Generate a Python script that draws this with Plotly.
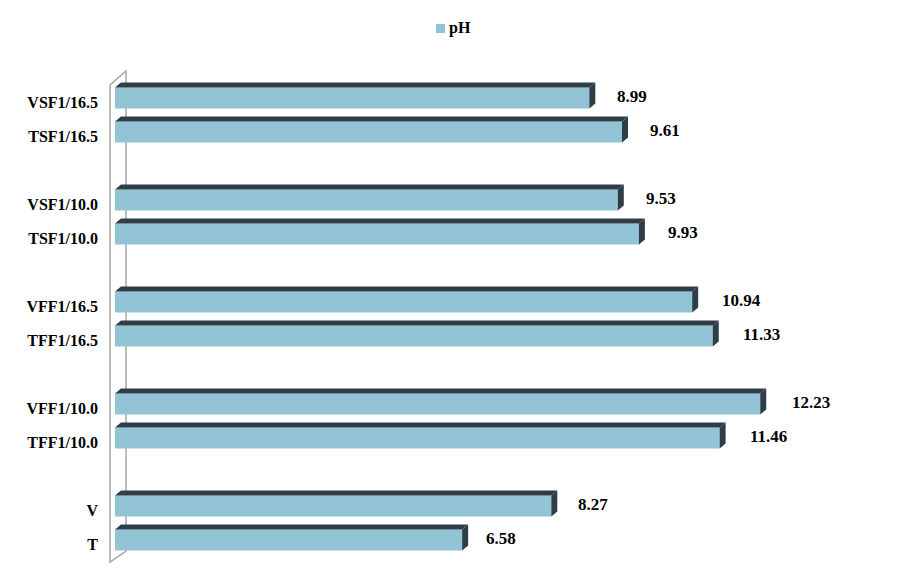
import plotly.graph_objects as go

# ---- data ----
categories = ["VSF1/16.5", "TSF1/16.5", "VSF1/10.0", "TSF1/10.0",
              "VFF1/16.5", "TFF1/16.5", "VFF1/10.0", "TFF1/10.0", "V", "T"]
ph_values = [8.99, 9.61, 9.53, 9.93, 10.94, 11.33, 12.23, 11.46, 8.27, 6.58]
series_name = "pH"

# categories come in pairs, separated by one empty slot
slots = [(i // 2) * 3 + (i % 2) for i in range(len(categories))]

# ---- styling ----
FRONT = "#92C4D6"
DARK = "#2E3D46"
WALL = "#A6A6A6"
FONT = "Times New Roman, Liberation Serif, serif"

W, H = 900, 588
ML, MR, MT, MB = 115, 20, 64, 14
XMAX = 14.5
YTOP, YBOT = -1, 14
PW = W - ML - MR
PH = H - MT - MB
px_per_x = PW / XMAX
px_per_y = PH / (YBOT - YTOP)

bar_h = 21 / px_per_y
dx = 6 / px_per_x
dy = 5 / px_per_y


def xp(px):
    return (px - ML) / PW


def yp(py):
    return (H - MB - py) / PH


fig = go.Figure()
fig.add_trace(go.Bar(
    y=slots, x=ph_values, orientation="h", width=bar_h,
    marker=dict(color=FRONT, line=dict(width=0)),
    name=series_name, hoverinfo="x+text", text=categories, textposition="none",
))

# 3D faces (top and right side)
for s, v in zip(slots, ph_values):
    yt = s - bar_h / 2
    yb = s + bar_h / 2
    fig.add_trace(go.Scatter(
        x=[0, v, v + dx, dx, 0], y=[yt, yt, yt - dy, yt - dy, yt],
        fill="toself", fillcolor=DARK, mode="lines", line=dict(width=0, color=DARK),
        showlegend=False, hoverinfo="skip"))
    fig.add_trace(go.Scatter(
        x=[v, v + dx, v + dx, v, v], y=[yt, yt - dy, yb - dy, yb, yt],
        fill="toself", fillcolor=DARK, mode="lines", line=dict(width=0, color=DARK),
        showlegend=False, hoverinfo="skip"))

# value labels
for s, v in zip(slots, ph_values):
    fig.add_annotation(
        x=v, y=s, xref="x", yref="y", text=f"<b>{v:.2f}</b>", showarrow=False,
        xanchor="left", yanchor="middle", xshift=22 + 1.4 * (v - 6.58), yshift=2,
        font=dict(family=FONT, size=17, color="#000000"))

# 3D wall outline
wall_path = (f"M{xp(110)},{yp(562)} L{xp(110)},{yp(85)} L{xp(126)},{yp(71)} "
             f"L{xp(126)},{yp(551)} Z")
fig.add_shape(type="path", path=wall_path, xref="paper", yref="paper",
              line=dict(color=WALL, width=1.5), layer="below")

# legend
fig.add_shape(type="rect", xref="paper", yref="paper",
              x0=xp(436), x1=xp(445), y0=yp(33), y1=yp(24),
              fillcolor=FRONT, line=dict(width=0))
fig.add_annotation(x=xp(447), y=yp(28), xref="paper", yref="paper",
                   text=f"<b>{series_name}</b>", showarrow=False,
                   xanchor="left", yanchor="middle",
                   font=dict(family=FONT, size=16, color="#000000"))

fig.update_layout(
    width=W, height=H,
    margin=dict(l=ML, r=MR, t=MT, b=MB),
    paper_bgcolor="white", plot_bgcolor="white",
    showlegend=False,
    font=dict(family=FONT),
    xaxis=dict(range=[0, XMAX], visible=False),
    yaxis=dict(range=[YBOT, YTOP], tickvals=[s + 0.12 for s in slots],
               ticktext=[f"<b>{c}</b>" for c in categories],
               showgrid=False, zeroline=False, showline=False, ticks="",
               ticklabelstandoff=16,
               tickfont=dict(family=FONT, size=16, color="#000000")),
)

fig.write_html("out.html")
